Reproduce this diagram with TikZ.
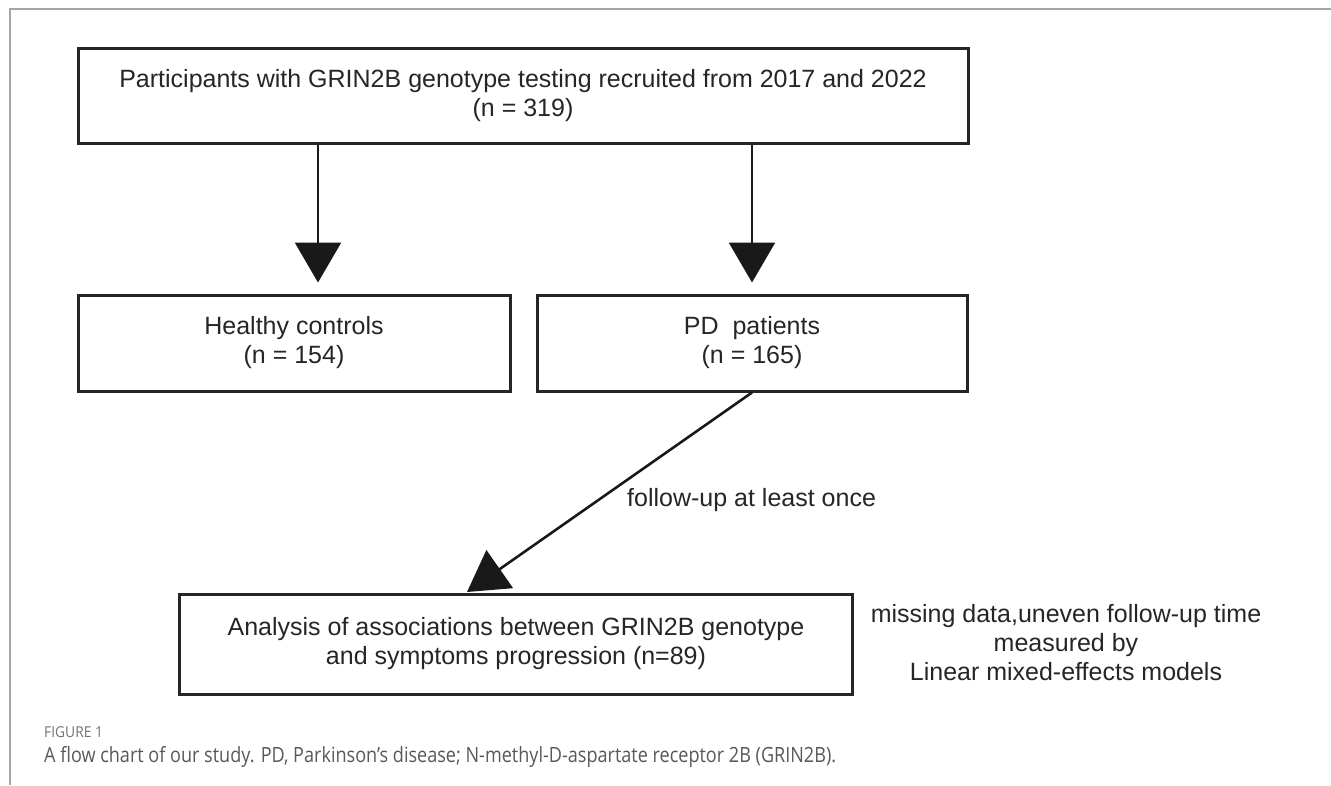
\documentclass[tikz,border=0pt]{standalone}
\usepackage{fontspec}
\setmainfont{Liberation Sans}
\newfontfamily\capfont[FakeStretch=0.86]{Open Sans}
\newfontfamily\figfont[FakeStretch=0.92]{Open Sans}
\usetikzlibrary{arrows.meta,calc}
\begin{document}
\begin{tikzpicture}[x=1pt,y=-1pt,
  box/.style={draw=black!85, line width=3pt, minimum height=96pt, align=center,
    font=\fontsize{25}{29}\selectfont, text=black!85, inner sep=0pt},
  arr/.style={line width=2.6pt, draw=black!90, -{Triangle[length=40pt,width=46pt]}},
  txt/.style={align=center, font=\fontsize{25}{29}\selectfont, text=black!85, inner sep=0pt}]
\useasboundingbox (0,0) rectangle (1331,785);
\fill[white] (0,0) rectangle (1331,785);
\draw[black!35, line width=1.2pt] (10,785) -- (10,9) -- (1331,9);

\node[box, minimum width=890pt, minimum height=95pt] (b1) at (523,96)
  {Participants with GRIN2B genotype testing recruited from 2017 and 2022\\(n = 319)};
\node[box, minimum width=432pt] (b2) at (294,343) {Healthy controls\\(n = 154)};
\node[box, minimum width=430pt] (b3) at (752,343) {PD\ \ patients\\(n = 165)};
\node[box, minimum width=673pt, minimum height=100pt] (b4) at (516,644)
  {Analysis of associations between GRIN2B genotype\\and symptoms progression (n=89)};
\node[txt] (note) at (1066,643)
  {missing data,uneven follow-up time\\measured by\\Linear mixed-effects models};
\node[txt, anchor=west] (fu) at (627,500) {follow-up at least once};

\coordinate (lx) at (318,0);
\draw[arr, shorten >=11pt] (b1.south -| lx) -- (b2.north -| lx);
\draw[arr, shorten >=11pt] (b1.south -| b3.north) -- (b3.north);
\coordinate (tip) at (467,592);
\draw[arr] (b3.south) -- (tip);

\node[anchor=base west, font=\figfont\fontsize{15}{17}\selectfont, text=black!55, inner sep=0pt] (fig) at (44,737) {FIGURE 1};
\node[anchor=base west, font=\capfont\fontsize{21}{24}\selectfont, text=black!65, inner sep=0pt] (cap) at (44,762)
  {A flow chart of our study. PD, Parkinson’s disease; N-methyl-D-aspartate receptor 2B (GRIN2B).};
\end{tikzpicture}
\end{document}
